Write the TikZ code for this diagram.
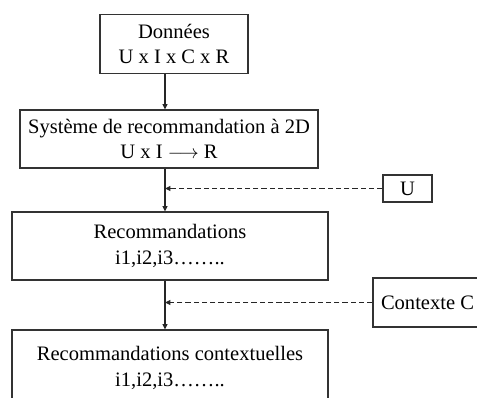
\documentclass[tikz,border=0pt]{standalone}
\usepackage{fontspec}
\setmainfont{Liberation Serif}
\usepackage{tikz}
\usetikzlibrary{arrows.meta,positioning,calc}

\begin{document}
\begin{tikzpicture}[x=0.75pt, y=-0.75pt,
  etape/.style={rectangle, draw=black!80, line width=0.8pt, align=center,
    font=\fontsize{15.4}{19}\selectfont, inner sep=0pt},
  entree/.style={rectangle, draw=black!80, line width=0.8pt,
    font=\fontsize{15.4}{18}\selectfont, inner sep=0pt},
  arr/.style={-{Triangle[length=4pt, width=3.6pt]}, line width=0.8pt, black!85},
  darr/.style={arr, dashed, dash pattern=on 4pt off 2.2pt},
]
\path[use as bounding box] (0,0) rectangle (477,397);
\clip (0,0) rectangle (477,397);
\coordinate (axe) at (165,0);
% sizes in pt (1px = 0.75pt)
\node[etape, minimum width=111pt, minimum height=44.25pt] (donnees) at (174,44)
  {Données\\U x I x C x R};
\node[etape, minimum width=223.5pt, minimum height=43.5pt] (systeme) at (169,139)
  {Système de recommandation à 2D\\U x I $\longrightarrow$ R};
\node[etape, minimum width=237pt, minimum height=51pt] (reco) at (170,246)
  {Recommandations\\i1,i2,i3……..};
\node[etape, minimum width=237pt, minimum height=57pt] (recoctx) at (170,368)
  {Recommandations contextuelles\\i1,i2,i3……..};
\node[entree, minimum width=36.75pt, minimum height=20.25pt] (u) at (407.5,188.5) {U};
\node[entree, minimum width=81.75pt, minimum height=36.75pt] (contexte) at (427.5,302.5)
  {Contexte C};
\draw[arr] (donnees.south -| axe) -- (systeme.north -| axe);
\draw[arr] (systeme.south -| axe) -- (reco.north -| axe);
\draw[arr] (reco.south -| axe) -- (recoctx.north -| axe);
\draw[darr] (u.west) -- (u.west -| axe);
\draw[darr] (contexte.west) -- (contexte.west -| axe);
\end{tikzpicture}
\end{document}
